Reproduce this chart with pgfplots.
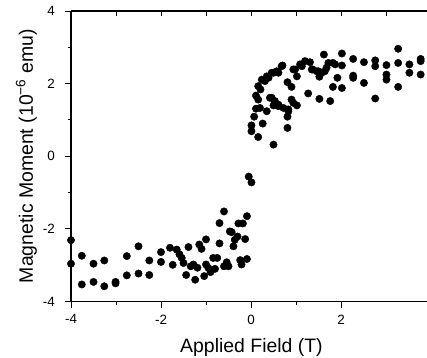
\documentclass[border=0pt]{standalone}
\usepackage{fontspec}
\setmainfont{Liberation Sans}
\usepackage{pgfplots}
\pgfplotsset{compat=1.18}
\begin{document}
\begin{tikzpicture}
\begin{axis}[
  name=ax,
  scale only axis,
  width=355.5bp, height=290.5bp,
  xmin=-4, xmax=3.9, ymin=-4, ymax=4,
  axis x line*=bottom, axis y line*=left,
  axis line style={line width=1.1bp, -},
  xtick={-4,-2,0,2}, ytick={-4,-2,0,2,4},
  minor tick num=1,
  tick align=outside,
  major tick length=6bp, minor tick length=3.5bp,
  tick style={line width=0.9bp, black},
  /pgf/number format/assume math mode=true,
  tick label style={font=\fontsize{13.5}{15}\selectfont},
  xticklabel style={anchor=north, inner sep=0pt, yshift=-7bp},
  yticklabel style={anchor=east, inner sep=0pt, xshift=-10bp},
  xlabel={Applied Field (T)},
  ylabel={Magnetic Moment (10\textsuperscript{−6} emu)},
  label style={font=\fontsize{19.5}{23}\selectfont},
  xlabel style={at={(axis description cs:0.5077,-0.127)}, anchor=north, inner sep=0pt},
  ylabel style={at={(axis description cs:-0.0956,0.5)}, anchor=south, inner sep=0pt},
  clip=false,
]
\addplot[only marks, mark=*, mark size=3.7bp, mark options={fill=black, draw=black}] coordinates {
(-4.00,-2.31) (-4.00,-2.96) (-3.76,-2.74) (-3.76,-3.53) (-3.50,-2.96) (-3.50,-3.46)
(-3.26,-2.87) (-3.26,-3.58) (-3.01,-3.46) (-3.01,-3.50) (-2.76,-2.75) (-2.76,-3.28)
(-2.50,-2.48) (-2.50,-3.23) (-2.26,-2.87) (-2.26,-3.27) (-2.00,-2.64) (-2.00,-2.91)
(-1.80,-2.52) (-1.74,-2.99) (-1.65,-2.57) (-1.59,-2.70) (-1.54,-2.80) (-1.50,-2.94)
(-1.44,-3.27) (-1.39,-2.50) (-1.34,-3.03) (-1.28,-2.98) (-1.24,-3.40) (-1.19,-3.07)
(-1.15,-2.43) (-1.10,-2.55) (-1.04,-3.30) (-1.00,-2.29) (-1.00,-2.98) (-0.95,-3.07)
(-0.90,-3.19) (-0.84,-2.80) (-0.80,-3.10) (-0.75,-2.80) (-0.70,-2.40) (-0.70,-1.84)
(-0.60,-1.52) (-0.60,-3.03) (-0.54,-2.92) (-0.50,-3.03) (-0.47,-2.07) (-0.43,-2.09)
(-0.39,-2.48) (-0.36,-2.30) (-0.30,-2.21) (-0.28,-1.85) (-0.24,-2.86) (-0.21,-2.98)
(-0.18,-1.85) (-0.13,-2.28) (-0.09,-2.83) (-0.09,-1.65) (-0.05,-0.56) (0.01,-0.72)
(0.01,0.85) (0.01,0.69) (0.16,0.53) (0.07,1.09) (0.26,0.90) (0.50,0.32)
(0.11,1.31) (0.11,1.67) (0.16,1.56) (0.21,1.84) (0.16,1.93) (0.24,2.11)
(0.31,2.07) (0.35,2.20) (0.39,2.16) (0.46,2.30) (0.50,2.30) (0.57,2.34)
(0.61,2.30) (0.68,2.48) (0.70,2.50) (0.35,1.24) (0.20,1.33) (0.46,1.61)
(0.42,1.61) (0.50,1.40) (0.53,1.52) (0.61,1.38) (0.61,1.42) (0.72,1.33)
(0.83,1.29) (0.83,1.24) (0.81,1.09) (0.81,0.78) (0.81,2.04) (0.90,1.91)
(0.90,1.56) (0.94,1.47) (1.02,1.40) (0.94,2.39) (0.98,2.39) (1.02,2.20)
(1.09,2.53) (1.13,2.48) (1.20,2.62) (1.31,2.59) (1.27,1.73) (1.35,2.39)
(1.37,2.39) (1.46,2.34) (1.50,2.34) (1.52,2.19) (1.52,1.58) (1.57,2.30)
(1.62,2.80) (1.64,2.34) (1.68,2.44) (1.72,2.57) (1.76,1.52) (1.82,2.57)
(1.87,2.53) (1.82,1.91) (1.92,2.16) (2.02,2.83) (2.02,2.50) (2.02,1.88)
(2.27,2.68) (2.27,2.22) (2.27,2.16) (2.51,2.59) (2.51,2.02) (2.76,2.64)
(2.76,2.48) (2.76,1.59) (3.01,2.51) (3.01,2.25) (3.01,2.11) (3.27,2.96)
(3.27,2.57) (3.27,1.91) (3.52,2.53) (3.52,2.30) (3.77,2.68) (3.77,2.62)
(3.77,2.25)
};
\end{axis}
\begin{axis}[
  scale only axis,
  width=355.5bp, height=290.5bp,
  xmin=-4, xmax=3.9, ymin=-4, ymax=4,
  axis x line*=top, axis y line=none,
  axis line style={line width=1.1bp, -},
  xtick={-4,-3,...,3}, xticklabels={},
  tick align=inside,
  major tick length=5bp,
  tick style={line width=0.9bp, black},
]
\end{axis}
\pgfresetboundingbox
\path[use as bounding box] ([xshift=-71bp,yshift=-56bp]ax.south west) rectangle ([xshift=0.5bp,yshift=11bp]ax.north east);
\end{tikzpicture}
\end{document}
